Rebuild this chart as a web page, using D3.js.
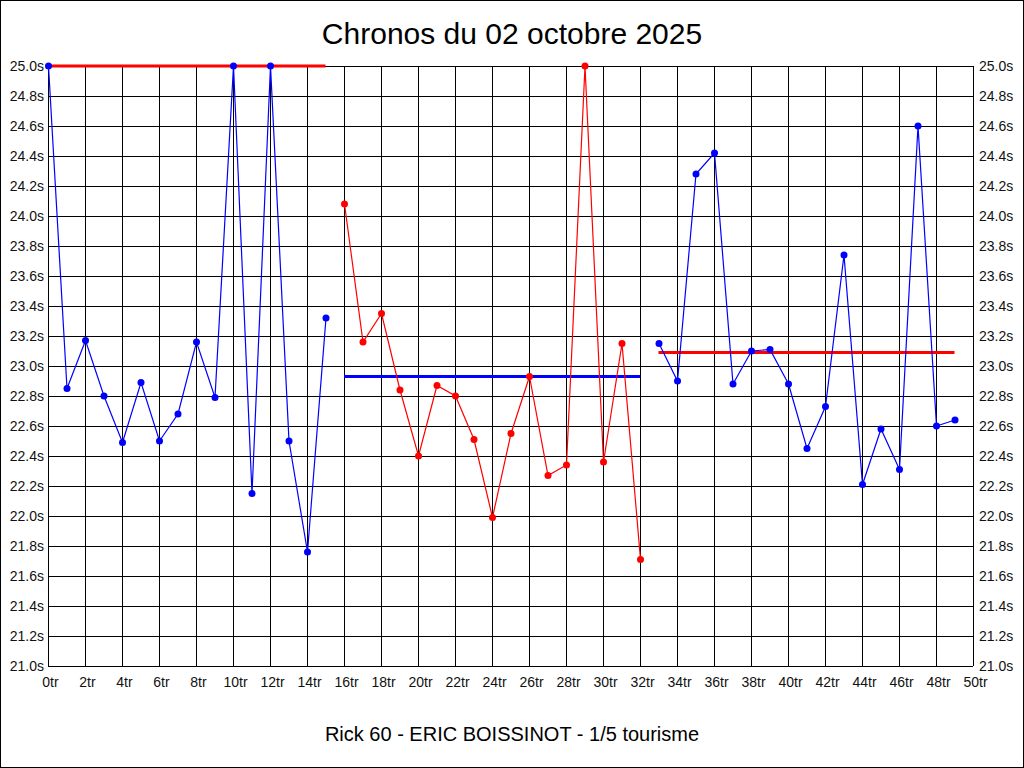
<!DOCTYPE html>
<html>
<head>
<meta charset="utf-8">
<title>Chronos du 02 octobre 2025</title>
<script src="https://cdn.jsdelivr.net/npm/d3@7"></script>
<style>
    html, body { margin: 0; padding: 0; background: #fff; }
    svg { display: block; font-family: "Liberation Sans", Arial, sans-serif; }
</style>
</head>
<body>
<div id="chart"></div>
<script>
const title = "Chronos du 02 octobre 2025"
const subtitle = "Rick 60 - ERIC BOISSINOT - 1/5 tourisme"

// lap number -> lap time in seconds
const laps = d3.range(0, 50)
const lapTimes = [
    25.00, 22.85, 23.17, 22.80, 22.49, 22.89, 22.50, 22.68, 23.16, 22.79,
    25.00, 22.15, 25.00, 22.50, 21.76, 23.32, 24.08, 23.16, 23.35, 22.84,
    22.40, 22.87, 22.80, 22.51, 21.99, 22.55, 22.93, 22.27, 22.34, 25.00,
    22.36, 23.15, 21.71, 23.15, 22.90, 24.28, 24.42, 22.88, 23.10, 23.11,
    22.88, 22.45, 22.73, 23.74, 22.21, 22.58, 22.31, 24.60, 22.60, 22.64
]

// stints: first lap, last lap, reference time
const stintFirstLap = [0, 16, 33]
const stintLastLap = [15, 32, 49]
const stintReference = [25.00, 22.93, 23.09]

const yTicks = d3.range(0, 21).map(i => 21 + i * 0.2)
const xTicks = d3.range(0, 51, 2)

const stintColors = ["#0000ff", "#ff0000", "#0000ff"]
const referenceColors = ["#ff0000", "#0000ff", "#ff0000"]

class ChronoChart {
    constructor(container) {
        this.width = 1024
        this.height = 768
        this.plot = { left: 48, right: 973, top: 66, bottom: 666 }

        this.svg = d3.select(container)
            .append("svg")
            .attr("width", this.width)
            .attr("height", this.height)

        this.x = d3.scaleLinear().domain([0, 50]).range([this.plot.left, this.plot.right])
        this.y = d3.scaleLinear().domain([21, 25]).range([this.plot.bottom, this.plot.top])

        this.drawFrame()
        this.drawGrid()
        this.drawAxes()
        this.drawReferences()
        this.drawStints()
        this.drawTexts()
    }

    drawFrame() {
        this.svg.append("rect")
            .attr("x", 0.5)
            .attr("y", 0.5)
            .attr("width", this.width - 1)
            .attr("height", this.height - 1)
            .attr("fill", "#fff")
            .attr("stroke", "#000")
            .attr("stroke-width", 1)
    }

    drawGrid() {
        const grid = this.svg.append("g")
            .attr("shape-rendering", "crispEdges")
            .attr("stroke", "#000")
            .attr("stroke-width", 1)

        grid.selectAll("line.h")
            .data(yTicks)
            .join("line")
            .attr("class", "h")
            .attr("x1", this.plot.left)
            .attr("x2", this.plot.right)
            .attr("y1", d => Math.round(this.y(d)) + 0.5)
            .attr("y2", d => Math.round(this.y(d)) + 0.5)

        grid.selectAll("line.v")
            .data(xTicks)
            .join("line")
            .attr("class", "v")
            .attr("x1", d => Math.round(this.x(d)) + 0.5)
            .attr("x2", d => Math.round(this.x(d)) + 0.5)
            .attr("y1", this.plot.top)
            .attr("y2", this.plot.bottom)
    }

    drawAxes() {
        const fmtY = d => d.toFixed(1) + "s"
        const fmtX = d => d + "tr"

        const left = this.svg.append("g")
            .attr("transform", `translate(${this.plot.left},0)`)
            .call(d3.axisLeft(this.y).tickValues(yTicks).tickFormat(fmtY).tickSize(0).tickPadding(4))

        const right = this.svg.append("g")
            .attr("transform", `translate(${this.plot.right},0)`)
            .call(d3.axisRight(this.y).tickValues(yTicks).tickFormat(fmtY).tickSize(0).tickPadding(6))

        const bottom = this.svg.append("g")
            .attr("transform", `translate(2,${this.plot.bottom})`)
            .call(d3.axisBottom(this.x).tickValues(xTicks).tickFormat(fmtX).tickSize(0).tickPadding(11))

        for (const axis of [left, right, bottom]) {
            axis.select(".domain").remove()
            axis.selectAll("text")
                .attr("font-family", "\"Liberation Sans\", Arial, sans-serif")
                .attr("font-size", 14)
                .attr("fill", "#111")
        }
    }

    drawReferences() {
        this.svg.append("g")
            .selectAll("line")
            .data(stintReference)
            .join("line")
            .attr("x1", (d, i) => this.x(stintFirstLap[i]))
            .attr("x2", (d, i) => this.x(stintLastLap[i]))
            .attr("y1", d => this.y(d))
            .attr("y2", d => this.y(d))
            .attr("stroke", (d, i) => referenceColors[i])
            .attr("stroke-width", 3)
    }

    drawStints() {
        const line = d3.line()
            .x(d => this.x(d) + 0.5)
            .y(d => this.y(lapTimes[d]))

        stintFirstLap.forEach((first, i) => {
            const stintLaps = laps.filter(l => l >= first && l <= stintLastLap[i])
            const g = this.svg.append("g")

            g.append("path")
                .datum(stintLaps)
                .attr("d", line)
                .attr("fill", "none")
                .attr("stroke", stintColors[i])
                .attr("stroke-width", 1.2)

            g.selectAll("circle")
                .data(stintLaps)
                .join("circle")
                .attr("cx", d => this.x(d) + 0.5)
                .attr("cy", d => this.y(lapTimes[d]))
                .attr("r", 3.5)
                .attr("fill", stintColors[i])
        })
    }

    drawTexts() {
        this.svg.append("text")
            .attr("x", this.width / 2)
            .attr("y", 44)
            .attr("text-anchor", "middle")
            .attr("font-size", 30)
            .attr("fill", "#000")
            .text(title)

        this.svg.append("text")
            .attr("x", this.width / 2)
            .attr("y", 741)
            .attr("text-anchor", "middle")
            .attr("font-size", 20)
            .attr("fill", "#000")
            .text(subtitle)
    }
}

new ChronoChart(document.getElementById("chart"))
</script>
</body>
</html>
